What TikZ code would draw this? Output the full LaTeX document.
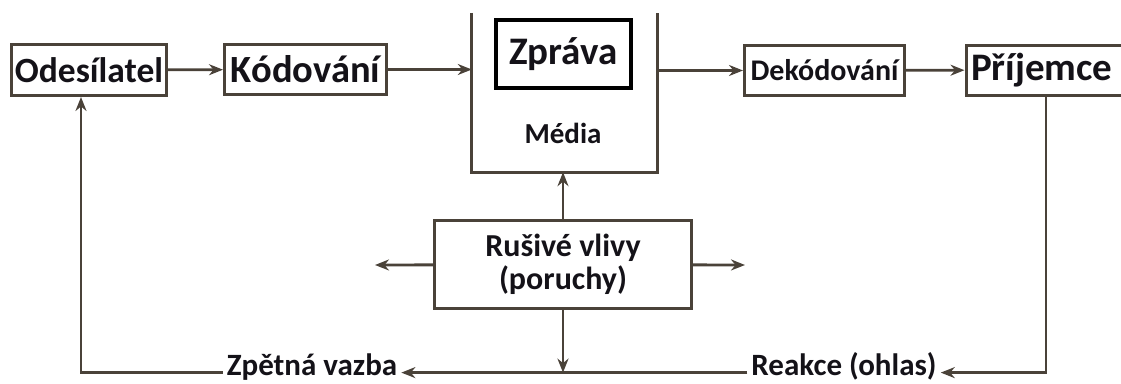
\documentclass[tikz,border=0pt]{standalone}
\usepackage{fontspec}
\setmainfont{Carlito}
\usetikzlibrary{arrows.meta,positioning}
\definecolor{linebrown}{HTML}{4A4239}
\definecolor{textdark}{HTML}{141218}
\tikzset{
  block/.style={draw=linebrown,line width=3pt,inner sep=0pt,text=textdark},
  flow/.style={draw=linebrown,line width=2.8pt,-{Stealth[length=14pt,width=11pt]}},
  side/.style={draw=linebrown,line width=3pt},
  tag/.style={inner sep=4pt,anchor=base,text=textdark,font=\bfseries\fontsize{31}{31}\selectfont},
}
\begin{document}
\begin{tikzpicture}[x=1pt,y=-1pt]
  \useasboundingbox (0,0) rectangle (1121,383);
  % top row
  \node[block,minimum width=155pt,minimum height=51pt,font=\bfseries\fontsize{35.5}{35.5}\selectfont] (send) at (89,70) {Odesílatel};
  \node[block,minimum width=162pt,minimum height=50pt,font=\bfseries\fontsize{38.5}{38.5}\selectfont] (code) at (305.5,69.5) {Kódování};
  \node[minimum width=185pt,minimum height=159pt,inner sep=0pt] (media) at (564.5,92.5) {};
  \draw[side] (media.north west) -- (media.south west) -- (media.south east) -- (media.north east);
  \node[draw=black,line width=4.5pt,minimum width=135pt,minimum height=68pt,inner sep=0pt,text=textdark,font=\bfseries\fontsize{39}{39}\selectfont] (msg) at (563.5,54) {Zpráva};
  \node[text=textdark,font=\bfseries\fontsize{29}{29}\selectfont] (medialbl) at (563,133) {Média};
  \node[block,minimum width=160pt,minimum height=50pt,font=\bfseries\fontsize{30}{30}\selectfont] (decode) at (824.5,70.5) {Dekódování};
  \node[block,minimum width=160pt,minimum height=50pt,font=\bfseries\fontsize{39}{39}\selectfont,text width=150pt] (recv) at (1046,70) {Příjemce};
  % noise
  \node[block,minimum width=257pt,minimum height=88pt,align=center,font=\bfseries\fontsize{32}{33}\selectfont] (noise) at (563,264.5) {Rušivé vlivy\\(poruchy)};
  \coordinate (noiseL) at (375,265);
  \coordinate (noiseR) at (745,265);
  % feedback labels
  \node[tag] (react) at (844,375) {Reakce (ohlas)};
  \node[tag] (fb) at (312,375) {Zpětná vazba};

  \draw[flow] (send) -- (code);
  \draw[flow] (code.east) -- (code.east -| media.west);
  \draw[flow] (media.east |- decode) -- (decode.west);
  \draw[flow] (decode) -- (recv);
  \draw[flow] (noise.north) -- (noise.north |- media.south);
  \draw[flow] (noise) -- (noiseL);
  \draw[flow] (noise) -- (noiseR);
  \draw[flow] (noise.south) -- (noise.south |- fb.mid);
  \draw[flow] (recv.south) |- (react.mid east);
  \draw[flow] (react.mid west) -- (fb.mid east);
  \draw[flow] (fb.mid west) -| ([xshift=-8pt]send.south);
\end{tikzpicture}
\end{document}
